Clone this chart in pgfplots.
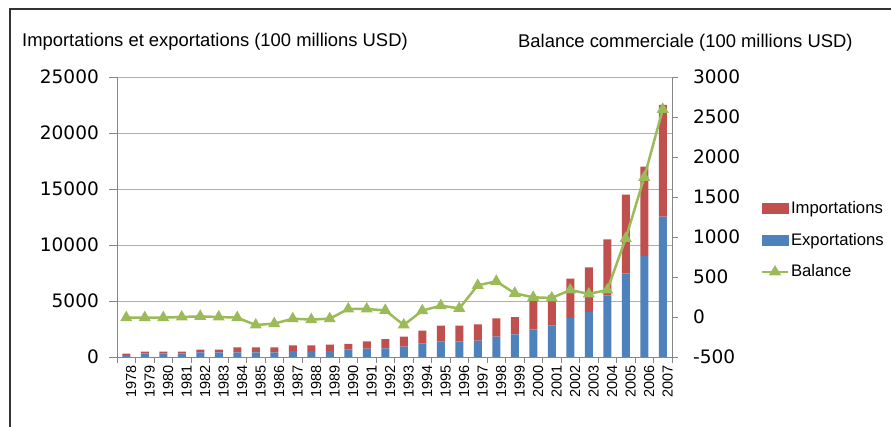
\documentclass[border=0pt]{standalone}
\usepackage{pgfplots}
\pgfplotsset{compat=1.18}
\usepackage{pgfplotstable}
\usepackage{fontspec}
\setmainfont{Liberation Sans}
\newfontfamily\tickfont{DejaVu Sans}
\definecolor{impred}{RGB}{192,80,77}
\definecolor{expblue}{RGB}{79,129,189}
\definecolor{balgreen}{RGB}{155,187,89}
\definecolor{axgray}{RGB}{134,134,134}
\definecolor{gridgray}{RGB}{175,175,175}

\pgfplotstableread{
year E I B
1978 160 140 -8
1979 330 150 -8
1980 330 150 -8
1981 330 150 0
1982 420 230 8
1983 420 230 0
1984 420 430 -8
1985 420 430 -100
1986 420 430 -83
1987 520 520 -21
1988 520 520 -33
1989 520 580 -21
1990 650 530 100
1991 750 650 100
1992 780 820 83
1993 920 900 -100
1994 1220 1130 79
1995 1370 1430 142
1996 1370 1430 108
1997 1460 1460 396
1998 1820 1630 446
1999 2020 1550 296
2000 2470 2730 246
2001 2800 2700 238
2002 3500 3500 338
2003 4000 4000 288
2004 5500 5000 338
2005 7470 7030 983
2006 9020 7980 1746
2007 12530 9970 2596
}\datatable

\begin{document}
\begin{tikzpicture}[x=1pt,y=1pt]
\useasboundingbox (0,0) rectangle (891,427);
\draw[line width=1.1pt, black!80] (10,0) -- (10,418) -- (891,418);
\node[anchor=base west, inner sep=0pt, font=\fontsize{18.4}{20}\selectfont] at (22,380) {Importations et exportations (100 millions USD)};
\node[anchor=base west, inner sep=0pt, font=\fontsize{18.4}{20}\selectfont] at (518,379) {Balance commerciale (100 millions USD)};

\begin{axis}[
  at={(117pt,70pt)}, anchor=south west,
  scale only axis, width=555pt, height=280pt,
  xmin=1977.5, xmax=2007.5,
  ymin=0, ymax=25000,
  axis x line*=bottom, axis y line*=left,
  axis line style={axgray, line width=0.8pt},
  ybar stacked, bar width=8pt,
  xtick={1978,...,2007},
  minor xtick={1977.5,1978.5,...,2007.5},
  major x tick style={draw=none},
  minor x tick style={axgray, line width=0.8pt},
  minor tick length=6pt,
  xticklabel={\pgfmathparse{int(round(\tick))}\pgfmathresult},
  xticklabel style={rotate=90, anchor=east, font=\fontsize{14.5}{14.5}\selectfont, inner sep=0pt, yshift=-5pt},
  ytick={0,5000,...,25000},
  scaled y ticks=false,
  ymajorgrids, grid style={gridgray, line width=0.8pt},
  y tick style={axgray, line width=0.8pt},
  tick align=outside, major tick length=8pt,
  yticklabel style={font=\tickfont\fontsize{18.5}{18.5}\selectfont, inner sep=0pt, xshift=-10pt},
  /pgf/number format/assume math mode=true,
  /pgf/number format/1000 sep={},
]
\addplot[fill=expblue, draw=none] table[x=year, y=E] {\datatable};
\addplot[fill=impred, draw=none] table[x=year, y=I] {\datatable};
\end{axis}

\begin{axis}[
  at={(117pt,70pt)}, anchor=south west,
  scale only axis, width=555pt, height=280pt,
  xmin=1977.5, xmax=2007.5,
  ymin=-500, ymax=3000,
  axis x line=none, axis y line*=right,
  axis line style={axgray, line width=0.8pt},
  ytick={-500,0,...,3000},
  scaled y ticks=false,
  y tick style={axgray, line width=0.8pt},
  tick align=outside, major tick length=6pt,
  yticklabel style={font=\tickfont\fontsize{18.5}{18.5}\selectfont, inner sep=0pt, xshift=15pt, anchor=west},
  /pgf/number format/assume math mode=true,
  /pgf/number format/1000 sep={},
  legend style={draw=none, fill=none, at={(1.16,0.418)}, anchor=west, inner sep=0pt,
    font=\fontsize{16.7}{18}\selectfont, row sep=14pt,
    /tikz/every even column/.append style={column sep=8pt}},
  legend cell align=left,
]
\addlegendimage{legend image code/.code={\fill[impred] (0pt,-5pt) rectangle (26pt,5pt);}}
\addlegendentry{Importations}
\addlegendimage{legend image code/.code={\fill[expblue] (0pt,-5pt) rectangle (26pt,5pt);}}
\addlegendentry{Exportations}
\addplot[balgreen, line width=2.5pt, mark=triangle*, mark size=4.5pt, mark options={solid},
  legend image code/.code={\draw[balgreen, line width=2pt] (0pt,0pt) -- (26pt,0pt); \fill[balgreen] (13pt,4pt) -- (9pt,-2.5pt) -- (17pt,-2.5pt) -- cycle;}]
  table[x=year, y=B] {\datatable};
\addlegendentry{Balance}
\end{axis}
\end{tikzpicture}
\end{document}
